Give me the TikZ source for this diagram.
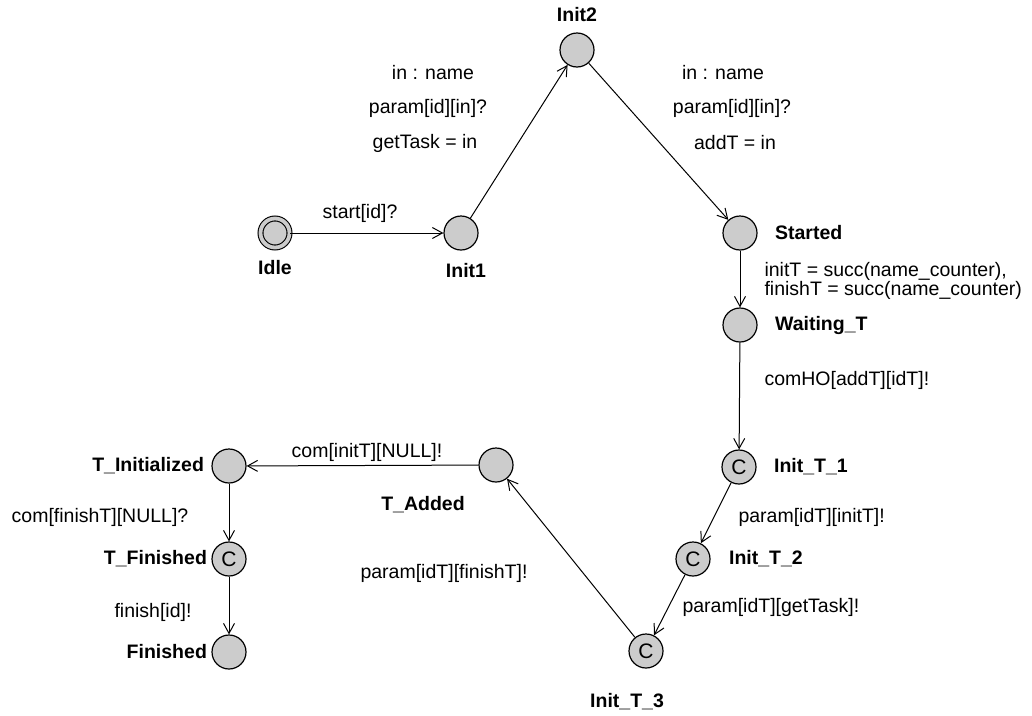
\documentclass[tikz,border=0pt]{standalone}
\usepackage{fontspec}
\setmainfont{Liberation Sans}
\usetikzlibrary{arrows.meta}
\definecolor{locgray}{gray}{0.8}
\begin{document}
\begin{tikzpicture}[x=1pt,y=-1pt,line width=1pt,
		loc/.style={draw,fill=locgray,circle,minimum size=34pt,inner sep=0pt,line width=1.2pt},
		comm/.style={loc,font=\fontsize{21}{22}\selectfont},
		locname/.style={font=\bfseries\fontsize{19.5}{22}\selectfont,inner sep=1pt},
		edgetxt/.style={font=\fontsize{19.5}{22}\selectfont,inner sep=1pt},
		>={Straight Barb[length=10pt,width=11pt]}]
	\useasboundingbox (0,0) rectangle (1032,715);
	% locations
	\node[loc,minimum size=29pt,line width=1.1pt,double=locgray,double distance=3.8pt] (idle) at (275,233)
		[label={[locname,label distance=11pt]below:Idle}] {};
	\node[loc] (init1) at (461,233) [label={[locname,label distance=11pt,xshift=5pt]below:Init1}] {};
	\node[loc] (init2) at (577,50) [label={[locname,label distance=9pt]above:Init2}] {};
	\node[loc] (started) at (740,233) [label={[locname,label distance=16pt]right:Started}] {};
	\node[loc] (waitT) at (740,325) [label={[locname,label distance=16pt]right:Waiting\_T}] {};
	\node[comm] (initT1) at (739,467) [label={[locname,label distance=16pt]right:Init\_T\_1}] {C};
	\node[comm] (initT2) at (693,559) [label={[locname,label distance=17pt]right:Init\_T\_2}] {C};
	\node[comm] (initT3) at (646,651) [label={[locname,label distance=23pt,xshift=-19pt]below:Init\_T\_3}] {C};
	\node[loc] (tAdded) at (496,465) [label={[locname,label distance=12pt,xshift=-73pt]below:T\_Added}] {};
	\node[loc] (tInit) at (229,466) [label={[locname,label distance=6pt]left:T\_Initialized}] {};
	\node[comm] (tFinish) at (229,559) [label={[locname,label distance=3pt]left:T\_Finished}] {C};
	\node[loc] (finished) at (229,652) [label={[locname,label distance=3pt]left:Finished}] {};
	% edges
	\draw[->] (idle) -- (init1);
	\draw[->] (init1) -- (init2);
	\draw[->] (init2) -- (started);
	\draw[->] (started) -- (waitT);
	\draw[->] (waitT) -- (initT1);
	\draw[->] (initT1) -- (initT2);
	\draw[->] (initT2) -- (initT3);
	\draw[->] (initT3) -- (tAdded);
	\draw[->] (tAdded) -- (tInit);
	\draw[->] (tInit) -- (tFinish);
	\draw[->] (tFinish) -- (finished);
	% edge labels
	\node[edgetxt] (syncStart) at (360,213) {start[id]?};
	\node[edgetxt] (selA) at (433,73) {in : name};
	\node[edgetxt] (syncA) at (428,108) {param[id][in]?};
	\node[edgetxt] (updA) at (425,143) {getTask = in};
	\node[edgetxt] (selB) at (723,73) {in : name};
	\node[edgetxt] (syncB) at (732,108) {param[id][in]?};
	\node[edgetxt] (updB) at (735,143) {addT = in};
	\node[edgetxt,anchor=west,align=left,font=\fontsize{19.5}{18}\selectfont] (updStart) at (763,281)
		{initT = succ(name\_counter),\\finishT = succ(name\_counter)};
	\node[edgetxt,anchor=west] (syncHO) at (763,380) {comHO[addT][idT]!};
	\node[edgetxt,anchor=west] (syncT1) at (737,517) {param[idT][initT]!};
	\node[edgetxt,anchor=west] (syncT2) at (681,607) {param[idT][getTask]!};
	\node[edgetxt] (syncT3) at (444,573) {param[idT][finishT]!};
	\node[edgetxt] (syncAdd) at (367,452) {com[initT][NULL]!};
	\node[edgetxt] (syncIni) at (100,517) {com[finishT][NULL]?};
	\node[edgetxt] (syncFin) at (153,612) {finish[id]!};
\end{tikzpicture}
\end{document}
